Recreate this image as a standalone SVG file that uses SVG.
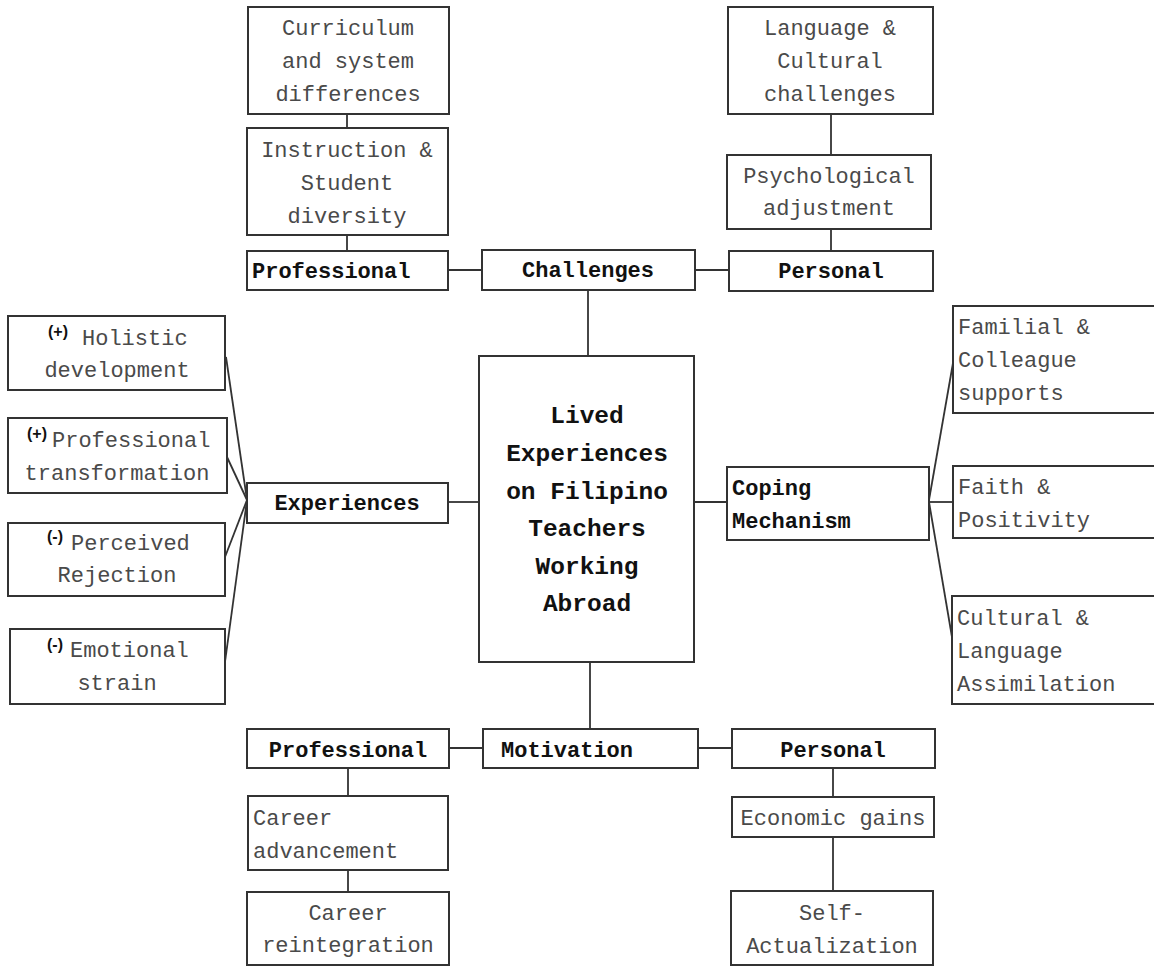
<svg xmlns="http://www.w3.org/2000/svg" width="1154" height="966" viewBox="0 0 1154 966">
<style>
.box{fill:#fff;stroke:#333;stroke-width:2}
.ln{fill:none;stroke:#333;stroke-width:1.8}
.t{font-family:"Liberation Mono","Courier New",monospace;font-size:22px;fill:#4a4a4a}
.b{font-family:"Liberation Mono","Courier New",monospace;font-size:22px;font-weight:bold;fill:#111}
.c{font-family:"Liberation Mono","Courier New",monospace;font-size:24.5px;font-weight:bold;fill:#111}
.s{font-family:"Liberation Sans",Arial,sans-serif;font-size:16px;font-weight:bold;fill:#111}
.m{text-anchor:middle}
</style>
<rect width="1154" height="966" fill="#fff"/>
<g id="connectors">
<line class="ln" x1="347" y1="114" x2="347" y2="128"/>
<line class="ln" x1="347" y1="235" x2="347" y2="251"/>
<line class="ln" x1="448" y1="270" x2="482" y2="270"/>
<line class="ln" x1="695" y1="270" x2="729" y2="270"/>
<line class="ln" x1="831" y1="114" x2="831" y2="155"/>
<line class="ln" x1="831" y1="229" x2="831" y2="251"/>
<line class="ln" x1="588" y1="290" x2="588" y2="356"/>
<line class="ln" x1="448" y1="502" x2="479" y2="502"/>
<line class="ln" x1="694" y1="502" x2="727" y2="502"/>
<line class="ln" x1="247" y1="500" x2="226" y2="357"/>
<line class="ln" x1="247" y1="500" x2="227" y2="457"/>
<line class="ln" x1="247" y1="500" x2="225" y2="557"/>
<line class="ln" x1="247" y1="500" x2="225" y2="662"/>
<line class="ln" x1="929" y1="500" x2="953" y2="363"/>
<line class="ln" x1="929" y1="502" x2="953" y2="502"/>
<line class="ln" x1="929" y1="502" x2="953" y2="643"/>
<line class="ln" x1="590" y1="662" x2="590" y2="729"/>
<line class="ln" x1="449" y1="748" x2="483" y2="748"/>
<line class="ln" x1="698" y1="748" x2="732" y2="748"/>
<line class="ln" x1="348" y1="768" x2="348" y2="796"/>
<line class="ln" x1="348" y1="870" x2="348" y2="892"/>
<line class="ln" x1="833" y1="768" x2="833" y2="797"/>
<line class="ln" x1="833" y1="837" x2="833" y2="891"/>
</g>
<g id="curriculum">
<rect class="box" x="248" y="7" width="201" height="107"/>
<text class="t m" x="348" y="35">Curriculum</text>
<text class="t m" x="348" y="68">and system</text>
<text class="t m" x="348" y="101">differences</text>
</g>
<g id="instruction">
<rect class="box" x="247" y="128" width="201" height="107"/>
<text class="t m" x="347" y="157">Instruction &amp;</text>
<text class="t m" x="347" y="190">Student</text>
<text class="t m" x="347" y="223">diversity</text>
</g>
<g id="professional-top">
<rect class="box" x="247" y="251" width="201" height="39"/>
<text class="b" x="252" y="278">Professional</text>
</g>
<g id="challenges">
<rect class="box" x="482" y="250" width="213" height="40"/>
<text class="b m" x="588" y="277">Challenges</text>
</g>
<g id="personal-top">
<rect class="box" x="729" y="251" width="204" height="40"/>
<text class="b m" x="831" y="278">Personal</text>
</g>
<g id="language">
<rect class="box" x="728" y="7" width="205" height="107"/>
<text class="t m" x="830" y="35">Language &amp;</text>
<text class="t m" x="830" y="68">Cultural</text>
<text class="t m" x="830" y="101">challenges</text>
</g>
<g id="psychological">
<rect class="box" x="727" y="155" width="204" height="74"/>
<text class="t m" x="829" y="183">Psychological</text>
<text class="t m" x="829" y="215">adjustment</text>
</g>
<g id="center">
<rect class="box" x="479" y="356" width="215" height="306"/>
<text class="c m" x="587" y="423">Lived</text>
<text class="c m" x="587" y="461">Experiences</text>
<text class="c m" x="587" y="499">on Filipino</text>
<text class="c m" x="587" y="536">Teachers</text>
<text class="c m" x="587" y="574">Working</text>
<text class="c m" x="587" y="611">Abroad</text>
</g>
<g id="experiences">
<rect class="box" x="247" y="483" width="201" height="40"/>
<text class="b m" x="347" y="510">Experiences</text>
</g>
<g id="holistic">
<rect class="box" x="8" y="316" width="217" height="74"/>
<text class="s" x="48" y="337">(+)</text>
<text class="t" x="82" y="345">Holistic</text>
<text class="t m" x="117" y="377">development</text>
</g>
<g id="prof-transformation">
<rect class="box" x="8" y="418" width="219" height="75"/>
<text class="s" x="27" y="439">(+)</text>
<text class="t" x="52" y="447">Professional</text>
<text class="t m" x="117" y="480">transformation</text>
</g>
<g id="perceived">
<rect class="box" x="8" y="523" width="217" height="73"/>
<text class="s" x="47" y="542">(-)</text>
<text class="t" x="71" y="550">Perceived</text>
<text class="t m" x="117" y="582">Rejection</text>
</g>
<g id="emotional">
<rect class="box" x="10" y="629" width="215" height="75"/>
<text class="s" x="47" y="650">(-)</text>
<text class="t" x="70" y="657">Emotional</text>
<text class="t m" x="117" y="690">strain</text>
</g>
<g id="coping">
<rect class="box" x="727" y="467" width="202" height="73"/>
<text class="b" x="732" y="495">Coping</text>
<text class="b" x="732" y="528">Mechanism</text>
</g>
<g id="familial">
<rect class="box" x="953" y="306" width="220" height="107"/>
<text class="t" x="958" y="334">Familial &amp;</text>
<text class="t" x="958" y="367">Colleague</text>
<text class="t" x="958" y="400">supports</text>
</g>
<g id="faith">
<rect class="box" x="953" y="466" width="220" height="72"/>
<text class="t" x="958" y="494">Faith &amp;</text>
<text class="t" x="958" y="527">Positivity</text>
</g>
<g id="cultural">
<rect class="box" x="952" y="596" width="220" height="108"/>
<text class="t" x="957" y="625">Cultural &amp;</text>
<text class="t" x="957" y="658">Language</text>
<text class="t" x="957" y="691">Assimilation</text>
</g>
<g id="professional-bottom">
<rect class="box" x="247" y="729" width="202" height="39"/>
<text class="b m" x="348" y="757">Professional</text>
</g>
<g id="motivation">
<rect class="box" x="483" y="729" width="215" height="39"/>
<text class="b" x="501" y="757">Motivation</text>
</g>
<g id="personal-bottom">
<rect class="box" x="732" y="729" width="203" height="39"/>
<text class="b m" x="833" y="757">Personal</text>
</g>
<g id="career-advancement">
<rect class="box" x="248" y="796" width="200" height="74"/>
<text class="t" x="253" y="825">Career</text>
<text class="t" x="253" y="858">advancement</text>
</g>
<g id="career-reintegration">
<rect class="box" x="247" y="892" width="202" height="73"/>
<text class="t m" x="348" y="920">Career</text>
<text class="t m" x="348" y="952">reintegration</text>
</g>
<g id="economic">
<rect class="box" x="732" y="797" width="202" height="40"/>
<text class="t m" x="833" y="825">Economic gains</text>
</g>
<g id="self-actualization">
<rect class="box" x="731" y="891" width="202" height="74"/>
<text class="t m" x="832" y="920">Self-</text>
<text class="t m" x="832" y="953">Actualization</text>
</g>
</svg>
